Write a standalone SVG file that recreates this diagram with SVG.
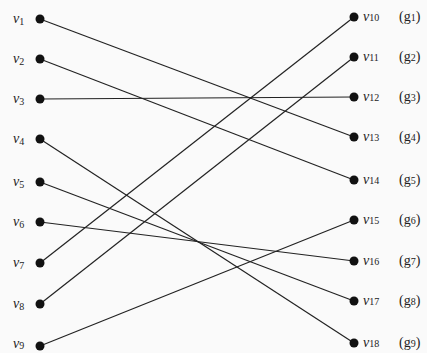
<svg xmlns="http://www.w3.org/2000/svg" width="427" height="353" viewBox="0 0 427 353">
<style>
.dot{fill:#111}
.lbl{font-family:"Liberation Serif","Times New Roman",serif;font-size:14px;fill:#222}
.v{font-style:italic}
.sub{font-size:10px;font-style:normal}
.edge{stroke:#222;stroke-width:1.2;fill:none}
</style>
<rect width="427" height="353" fill="#fafafa"/>
<g id="connectors">
<line class="edge" x1="40" y1="19" x2="354" y2="137"/>
<line class="edge" x1="40" y1="59" x2="354" y2="180"/>
<line class="edge" x1="40" y1="99" x2="354" y2="97"/>
<line class="edge" x1="40" y1="139" x2="354" y2="343"/>
<line class="edge" x1="40" y1="182" x2="354" y2="301"/>
<line class="edge" x1="40" y1="222" x2="354" y2="261"/>
<line class="edge" x1="40" y1="263" x2="354" y2="17"/>
<line class="edge" x1="40" y1="304" x2="354" y2="57"/>
<line class="edge" x1="40" y1="346" x2="354" y2="220"/>
</g>
<g id="v1"><circle class="dot" cx="40" cy="19" r="4.5"/><text class="lbl" x="13" y="23"><tspan class="v">v</tspan><tspan class="sub" dy="2">1</tspan></text></g>
<g id="v2"><circle class="dot" cx="40" cy="59" r="4.5"/><text class="lbl" x="13" y="63"><tspan class="v">v</tspan><tspan class="sub" dy="2">2</tspan></text></g>
<g id="v3"><circle class="dot" cx="40" cy="99" r="4.5"/><text class="lbl" x="13" y="103"><tspan class="v">v</tspan><tspan class="sub" dy="2">3</tspan></text></g>
<g id="v4"><circle class="dot" cx="40" cy="139" r="4.5"/><text class="lbl" x="13" y="143"><tspan class="v">v</tspan><tspan class="sub" dy="2">4</tspan></text></g>
<g id="v5"><circle class="dot" cx="40" cy="182" r="4.5"/><text class="lbl" x="13" y="186"><tspan class="v">v</tspan><tspan class="sub" dy="2">5</tspan></text></g>
<g id="v6"><circle class="dot" cx="40" cy="222" r="4.5"/><text class="lbl" x="13" y="226"><tspan class="v">v</tspan><tspan class="sub" dy="2">6</tspan></text></g>
<g id="v7"><circle class="dot" cx="40" cy="263" r="4.5"/><text class="lbl" x="13" y="267"><tspan class="v">v</tspan><tspan class="sub" dy="2">7</tspan></text></g>
<g id="v8"><circle class="dot" cx="40" cy="304" r="4.5"/><text class="lbl" x="13" y="308"><tspan class="v">v</tspan><tspan class="sub" dy="2">8</tspan></text></g>
<g id="v9"><circle class="dot" cx="40" cy="346" r="4.5"/><text class="lbl" x="13" y="348"><tspan class="v">v</tspan><tspan class="sub" dy="1">9</tspan></text></g>
<g id="v10"><circle class="dot" cx="354" cy="17" r="4.5"/><text class="lbl" x="363" y="21"><tspan class="v">v</tspan><tspan class="sub">10</tspan></text><text class="lbl" x="399" y="21">(g<tspan class="sub">1</tspan>)</text></g>
<g id="v11"><circle class="dot" cx="354" cy="57" r="4.5"/><text class="lbl" x="363" y="61"><tspan class="v">v</tspan><tspan class="sub">11</tspan></text><text class="lbl" x="399" y="61">(g<tspan class="sub">2</tspan>)</text></g>
<g id="v12"><circle class="dot" cx="354" cy="97" r="4.5"/><text class="lbl" x="363" y="101"><tspan class="v">v</tspan><tspan class="sub">12</tspan></text><text class="lbl" x="399" y="101">(g<tspan class="sub">3</tspan>)</text></g>
<g id="v13"><circle class="dot" cx="354" cy="137" r="4.5"/><text class="lbl" x="363" y="141"><tspan class="v">v</tspan><tspan class="sub">13</tspan></text><text class="lbl" x="399" y="141">(g<tspan class="sub">4</tspan>)</text></g>
<g id="v14"><circle class="dot" cx="354" cy="180" r="4.5"/><text class="lbl" x="363" y="184"><tspan class="v">v</tspan><tspan class="sub">14</tspan></text><text class="lbl" x="399" y="184">(g<tspan class="sub">5</tspan>)</text></g>
<g id="v15"><circle class="dot" cx="354" cy="220" r="4.5"/><text class="lbl" x="363" y="224"><tspan class="v">v</tspan><tspan class="sub">15</tspan></text><text class="lbl" x="399" y="224">(g<tspan class="sub">6</tspan>)</text></g>
<g id="v16"><circle class="dot" cx="354" cy="261" r="4.5"/><text class="lbl" x="363" y="265"><tspan class="v">v</tspan><tspan class="sub">16</tspan></text><text class="lbl" x="399" y="265">(g<tspan class="sub">7</tspan>)</text></g>
<g id="v17"><circle class="dot" cx="354" cy="301" r="4.5"/><text class="lbl" x="363" y="305"><tspan class="v">v</tspan><tspan class="sub">17</tspan></text><text class="lbl" x="399" y="305">(g<tspan class="sub">8</tspan>)</text></g>
<g id="v18"><circle class="dot" cx="354" cy="343" r="4.5"/><text class="lbl" x="363" y="347"><tspan class="v">v</tspan><tspan class="sub">18</tspan></text><text class="lbl" x="399" y="347">(g<tspan class="sub">9</tspan>)</text></g>
</svg>
